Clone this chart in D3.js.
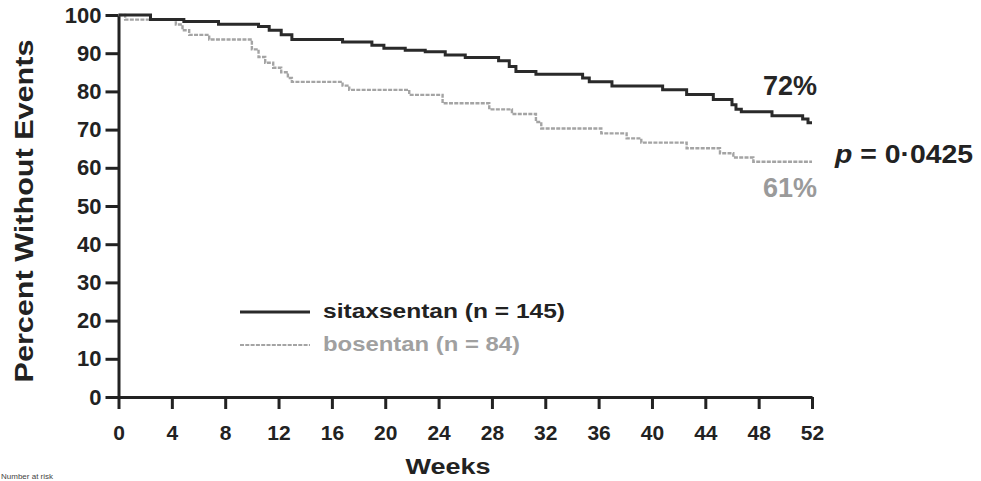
<!DOCTYPE html>
<html><head><meta charset="utf-8">
<script src="https://cdn.jsdelivr.net/npm/d3@7"></script>
<style>
html,body{margin:0;padding:0;background:#fff;}
svg{display:block;font-family:Arial,"Liberation Sans",sans-serif;}
</style></head>
<body>
<svg id="chart" width="981" height="481"></svg>
<script>
// Kaplan-Meier steps: week at which the step occurs, value after the step
const sitaxWeeks  = [0, 2.4, 4.9, 7.5, 10.5, 11.3, 12.2, 13, 16.8, 19, 19.9, 21.5, 23, 24.5, 26, 28.5, 29.3, 29.8, 31.3, 34.8, 35.3, 37, 40.8, 42.6, 44.6, 46, 46.3, 46.7, 49, 51.3, 51.7, 52];
const sitaxValues = [100, 98.8, 98.3, 97.6, 97.0, 96.0, 94.8, 93.6, 92.9, 92.1, 91.3, 90.8, 90.4, 89.5, 88.9, 88.0, 86.5, 85.2, 84.5, 83.5, 82.5, 81.4, 80.4, 79.2, 77.9, 76.5, 75.3, 74.7, 73.6, 72.8, 71.8, 71.8];
const bosWeeks  = [0, 0.5, 4.3, 4.8, 5.3, 6.8, 10, 10.5, 11, 11.6, 12.2, 12.7, 13, 16.8, 17.3, 21.8, 24.3, 27.8, 29.5, 31.3, 31.7, 36.2, 38.1, 39.2, 42.6, 45.1, 46.1, 47.6, 52];
const bosValues = [100, 98.8, 97.5, 96.0, 94.8, 93.6, 91.0, 89.0, 87.5, 86.2, 85.0, 83.5, 82.5, 81.5, 80.4, 79.1, 76.9, 75.3, 74.1, 72.0, 70.3, 69.0, 67.7, 66.6, 65.1, 63.8, 62.7, 61.6, 61.6];
const xTicks = [0, 4, 8, 12, 16, 20, 24, 28, 32, 36, 40, 44, 48, 52];
const yTicks = [0, 10, 20, 30, 40, 50, 60, 70, 80, 90, 100];
const seriesNames = ["sitaxsentan (n = 145)", "bosentan (n = 84)"];
const endLabels = ["72%", "61%"];
const pText = "0·0425";

const svg = d3.select("#chart");
const dark = "#222", grey = "#a4a4a4";
const FONT = "Arial, 'Liberation Sans', sans-serif";
const x = d3.scaleLinear().domain([0, 52]).range([118.5, 812]);
const y = d3.scaleLinear().domain([0, 100]).range([397, 15]);

// axes
const xAxis = d3.axisBottom(x).tickValues(xTicks).tickSize(12).tickPadding(16).tickSizeOuter(0);
const gx = svg.append("g").attr("transform", `translate(0,${y(0)})`).call(xAxis);
const yAxis = d3.axisLeft(y).tickValues(yTicks).tickSize(13).tickPadding(4).tickSizeOuter(0);
const gy = svg.append("g").attr("transform", `translate(${x(0)},0)`).call(yAxis);
[gx, gy].forEach(g => {
  g.select(".domain").attr("stroke", dark).attr("stroke-width", 3);
  g.selectAll(".tick line").attr("stroke", dark).attr("stroke-width", 3);
  g.selectAll(".tick text").attr("fill", dark).attr("font-weight", "bold").attr("font-size", 21)
    .attr("font-family", FONT);
});
gy.selectAll(".tick text").attr("font-size", 22);

// curves
const line = d3.line().curve(d3.curveStepAfter).x(d => x(d[0])).y(d => y(d[1]));
const bos = d3.zip(bosWeeks, bosValues);
const sit = d3.zip(sitaxWeeks, sitaxValues);
svg.append("path").datum(bos).attr("d", line).attr("fill", "none")
  .attr("stroke", grey).attr("stroke-width", 2.4).attr("stroke-dasharray", "4,1.3");
svg.append("path").datum(sit).attr("d", line).attr("fill", "none")
  .attr("stroke", "#2a2a2a").attr("stroke-width", 3);

// axis titles
svg.append("text").attr("transform", "translate(33,211) rotate(-90)")
  .attr("text-anchor", "middle").attr("font-weight", "bold").attr("font-size", 25)
  .attr("textLength", 343).attr("lengthAdjust", "spacingAndGlyphs")
  .attr("fill", dark).text("Percent Without Events");
svg.append("text").attr("x", 448).attr("y", 474).attr("text-anchor", "middle")
  .attr("font-weight", "bold").attr("font-size", 22)
  .attr("textLength", 85).attr("lengthAdjust", "spacingAndGlyphs")
  .attr("fill", dark).text("Weeks");
svg.append("text").attr("x", 1).attr("y", 479).attr("font-size", 8).attr("fill", "#444").text("Number at risk");

// end labels
svg.append("text").attr("x", 763).attr("y", 95)
  .attr("font-weight", "bold").attr("font-size", 27).attr("fill", "#262626").text(endLabels[0]);
svg.append("text").attr("x", 763).attr("y", 197)
  .attr("font-weight", "bold").attr("font-size", 27).attr("fill", "#9a9a9a").text(endLabels[1]);
const pt = svg.append("text").attr("x", 835).attr("y", 163).attr("font-weight", "bold")
  .attr("font-size", 25).attr("textLength", 138).attr("lengthAdjust", "spacingAndGlyphs").attr("fill", dark);
pt.append("tspan").attr("font-style", "italic").text("p");
pt.append("tspan").text(" = " + pText);

// legend
const legY = [312, 345];
const legText = [318, 351];
const legLen = [242, 197];
const legColors = ["#2a2a2a", grey];
seriesNames.forEach((n, i) => {
  svg.append("line").attr("x1", 240).attr("x2", 310).attr("y1", legY[i]).attr("y2", legY[i])
    .attr("stroke", legColors[i]).attr("stroke-width", i ? 2.2 : 3)
    .attr("stroke-dasharray", i ? "4,1.3" : null);
  svg.append("text").attr("x", 323).attr("y", legText[i]).attr("font-weight", "bold")
    .attr("font-size", 20).attr("textLength", legLen[i]).attr("lengthAdjust", "spacingAndGlyphs")
    .attr("fill", i ? "#a0a0a0" : dark).text(n);
});
</script>
</body></html>
